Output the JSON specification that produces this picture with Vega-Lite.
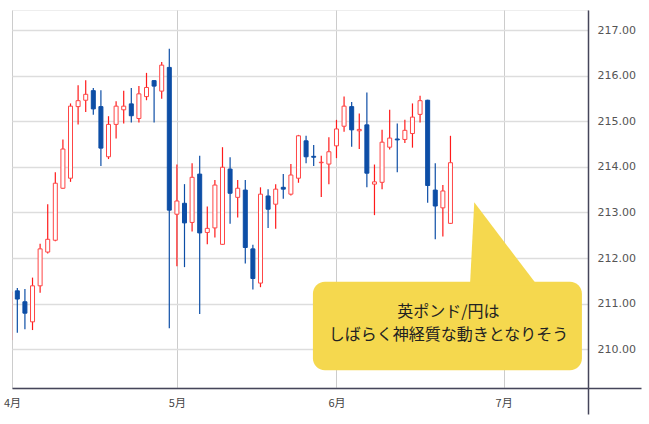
{
  "$schema": "https://vega.github.io/schema/vega-lite/v6.json",
  "width": 576,
  "height": 378,
  "autosize": {"type": "none"},
  "padding": {"left": 12, "top": 10, "right": 61, "bottom": 36},
  "background": "#ffffff",
  "config": {"view": {"stroke": "#eeeeee", "strokeWidth": 1}},
  "datasets": {
    "candles": [
      {"i": -1, "o": 210.20, "h": 211.30, "l": 210.10, "c": 211.26},
      {"i": 0, "o": 211.28, "h": 211.34, "l": 210.36, "c": 211.10},
      {"i": 1, "o": 211.04, "h": 211.32, "l": 210.44, "c": 210.79},
      {"i": 2, "o": 210.60, "h": 211.57, "l": 210.42, "c": 211.39},
      {"i": 3, "o": 211.39, "h": 212.31, "l": 211.24, "c": 212.20},
      {"i": 4, "o": 212.13, "h": 213.18, "l": 212.10, "c": 212.41},
      {"i": 5, "o": 212.39, "h": 213.88, "l": 212.37, "c": 213.64},
      {"i": 6, "o": 213.53, "h": 214.60, "l": 213.52, "c": 214.39},
      {"i": 7, "o": 213.75, "h": 215.39, "l": 213.67, "c": 215.33},
      {"i": 8, "o": 215.32, "h": 215.79, "l": 214.93, "c": 215.45},
      {"i": 9, "o": 215.46, "h": 215.90, "l": 215.20, "c": 215.59},
      {"i": 10, "o": 215.67, "h": 215.73, "l": 215.14, "c": 215.27},
      {"i": 11, "o": 215.32, "h": 215.68, "l": 214.02, "c": 214.41},
      {"i": 12, "o": 214.22, "h": 215.11, "l": 214.17, "c": 214.93},
      {"i": 13, "o": 214.93, "h": 215.44, "l": 214.62, "c": 215.33},
      {"i": 14, "o": 215.25, "h": 215.67, "l": 214.95, "c": 215.33},
      {"i": 15, "o": 215.38, "h": 215.73, "l": 214.97, "c": 215.12},
      {"i": 16, "o": 215.06, "h": 215.77, "l": 214.97, "c": 215.60},
      {"i": 17, "o": 215.54, "h": 216.06, "l": 215.46, "c": 215.74},
      {"i": 18, "o": 215.89, "h": 215.90, "l": 214.97, "c": 215.77},
      {"i": 19, "o": 215.66, "h": 216.30, "l": 215.49, "c": 216.23},
      {"i": 20, "o": 216.18, "h": 216.59, "l": 210.46, "c": 213.05},
      {"i": 21, "o": 212.96, "h": 214.05, "l": 211.82, "c": 213.25},
      {"i": 22, "o": 213.20, "h": 213.62, "l": 211.80, "c": 212.77},
      {"i": 23, "o": 212.78, "h": 214.08, "l": 212.58, "c": 213.77},
      {"i": 24, "o": 213.84, "h": 214.24, "l": 210.77, "c": 212.55},
      {"i": 25, "o": 212.56, "h": 213.13, "l": 212.30, "c": 212.65},
      {"i": 26, "o": 212.66, "h": 213.71, "l": 212.45, "c": 213.60},
      {"i": 27, "o": 212.30, "h": 214.43, "l": 212.29, "c": 213.99},
      {"i": 28, "o": 213.95, "h": 214.21, "l": 212.75, "c": 213.42},
      {"i": 29, "o": 213.33, "h": 213.71, "l": 212.89, "c": 213.53},
      {"i": 30, "o": 213.49, "h": 213.71, "l": 211.88, "c": 212.23},
      {"i": 31, "o": 212.20, "h": 212.29, "l": 211.31, "c": 211.55},
      {"i": 32, "o": 211.45, "h": 213.55, "l": 211.36, "c": 213.40},
      {"i": 33, "o": 213.36, "h": 213.51, "l": 212.66, "c": 213.07},
      {"i": 34, "o": 213.18, "h": 213.62, "l": 212.64, "c": 213.51},
      {"i": 35, "o": 213.55, "h": 213.84, "l": 213.30, "c": 213.51},
      {"i": 36, "o": 213.40, "h": 214.06, "l": 213.37, "c": 213.82},
      {"i": 37, "o": 213.75, "h": 214.70, "l": 213.65, "c": 214.68},
      {"i": 38, "o": 214.57, "h": 214.68, "l": 214.08, "c": 214.22},
      {"i": 39, "o": 214.23, "h": 214.48, "l": 214.02, "c": 214.21},
      {"i": 40, "o": 214.09, "h": 214.24, "l": 213.34, "c": 214.10},
      {"i": 41, "o": 214.06, "h": 214.65, "l": 213.62, "c": 214.33},
      {"i": 42, "o": 214.46, "h": 215.03, "l": 214.19, "c": 214.83},
      {"i": 43, "o": 214.89, "h": 215.54, "l": 214.77, "c": 215.33},
      {"i": 44, "o": 215.32, "h": 215.42, "l": 214.44, "c": 214.81},
      {"i": 45, "o": 214.79, "h": 215.17, "l": 214.39, "c": 214.82},
      {"i": 46, "o": 214.92, "h": 215.63, "l": 213.55, "c": 213.86},
      {"i": 47, "o": 213.62, "h": 214.05, "l": 212.94, "c": 213.67},
      {"i": 48, "o": 213.66, "h": 214.81, "l": 213.51, "c": 214.54},
      {"i": 49, "o": 214.43, "h": 215.25, "l": 214.38, "c": 214.63},
      {"i": 50, "o": 214.61, "h": 214.95, "l": 213.88, "c": 214.59},
      {"i": 51, "o": 214.60, "h": 215.03, "l": 214.52, "c": 214.80},
      {"i": 52, "o": 214.73, "h": 215.39, "l": 214.42, "c": 215.09},
      {"i": 53, "o": 215.15, "h": 215.56, "l": 214.97, "c": 215.45},
      {"i": 54, "o": 215.46, "h": 215.47, "l": 213.21, "c": 213.59},
      {"i": 55, "o": 213.49, "h": 214.08, "l": 212.41, "c": 213.14},
      {"i": 56, "o": 213.10, "h": 213.60, "l": 212.47, "c": 213.47},
      {"i": 57, "o": 212.76, "h": 214.68, "l": 212.75, "c": 214.09}
    ],
    "box": [{"x1": 38.9, "x2": 74.3, "y1": 211.48, "y2": 209.54}],
    "pointer": [
      {"i": 59.57, "top": 211.40, "base": 211.40},
      {"i": 60.13, "top": 213.22, "base": 211.40},
      {"i": 68.42, "top": 211.40, "base": 211.40}
    ],
    "note": [
      {"i": 56.74, "p": 210.82, "t": "英ポンド/円は"},
      {"i": 56.74, "p": 210.31, "t": "しばらく神経質な動きとなりそう"}
    ]
  },
  "layer": [
    {
      "data": {"name": "candles"},
      "mark": {"type": "rule", "clip": true, "strokeWidth": 1.2},
      "encoding": {
        "x": {
          "field": "i", "type": "quantitative",
          "scale": {"domain": [-0.7, 75.1], "nice": false, "zero": false, "padding": 0},
          "axis": {
            "title": null,
            "values": [-0.7, 21, 42, 64, 75.1],
            "labelExpr": "datum.value < 0 ? '4月' : datum.value < 30 ? '5月' : datum.value < 50 ? '6月' : datum.value < 70 ? '7月' : ''",
            "grid": true, "gridColor": "#cccccc", "gridWidth": 1,
            "domainColor": "#45455a", "domainWidth": 1.5,
            "ticks": true, "tickSize": 26, "tickColor": "#45455a", "tickWidth": 1.5,
            "tickOpacity": {"condition": {"test": "datum.value > 75", "value": 1}, "value": 0},
            "labelPadding": -17,
            "labelFont": "Noto Sans CJK JP", "labelFontSize": 11, "labelColor": "#444444",
            "labelOverlap": false, "labelBound": false, "labelFlush": false
          }
        },
        "y": {
          "field": "l", "type": "quantitative",
          "scale": {"domain": [209.149, 217.439], "nice": false, "zero": false, "padding": 0},
          "axis": {
            "orient": "right", "title": null,
            "values": [209.149, 210, 211, 212, 213, 214, 215, 216, 217],
            "labelExpr": "datum.value < 209.5 ? '' : format(datum.value, '.2f')",
            "grid": true, "gridColor": "#dddddd", "gridWidth": 1.5,
            "domainColor": "#45455a", "domainWidth": 1.5,
            "ticks": true, "tickSize": 53, "tickColor": "#45455a", "tickWidth": 1.5,
            "tickOpacity": {"condition": {"test": "datum.value < 209.5", "value": 1}, "value": 0},
            "labelPadding": -44,
            "labelFont": "DejaVu Sans", "labelFontSize": 11, "labelColor": "#555555",
            "labelBaseline": "middle", "labelAlign": "left",
            "labelOverlap": false, "labelBound": false
          }
        },
        "y2": {"field": "h"},
        "color": {"condition": {"test": "datum.c >= datum.o", "value": "#ff1a1a"}, "value": "#0d4ea6"}
      }
    },
    {
      "data": {"name": "candles"},
      "mark": {"type": "bar", "clip": true, "size": 4, "strokeWidth": 1},
      "encoding": {
        "x": {"field": "i", "type": "quantitative"},
        "y": {"field": "o", "type": "quantitative"},
        "y2": {"field": "c"},
        "fill": {"condition": {"test": "datum.c >= datum.o", "value": "#ffffff"}, "value": "#0d4ea6"},
        "stroke": {"condition": {"test": "datum.c >= datum.o", "value": "#ff4545"}, "value": "#0d4ea6"}
      }
    },
    {
      "data": {"name": "box"},
      "mark": {"type": "rect", "cornerRadius": 12, "color": "#f5d84e"},
      "encoding": {
        "x": {"field": "x1", "type": "quantitative"},
        "x2": {"field": "x2"},
        "y": {"field": "y1", "type": "quantitative"},
        "y2": {"field": "y2"}
      }
    },
    {
      "data": {"name": "pointer"},
      "mark": {"type": "area", "orient": "vertical", "color": "#f5d84e", "opacity": 1},
      "encoding": {
        "x": {"field": "i", "type": "quantitative"},
        "y": {"field": "top", "type": "quantitative"},
        "y2": {"field": "base"}
      }
    },
    {
      "data": {"name": "note"},
      "mark": {"type": "text", "align": "center", "baseline": "middle", "font": "Noto Sans CJK JP", "fontSize": 16, "color": "#222222"},
      "encoding": {
        "x": {"field": "i", "type": "quantitative"},
        "y": {"field": "p", "type": "quantitative"},
        "text": {"field": "t"}
      }
    }
  ]
}
